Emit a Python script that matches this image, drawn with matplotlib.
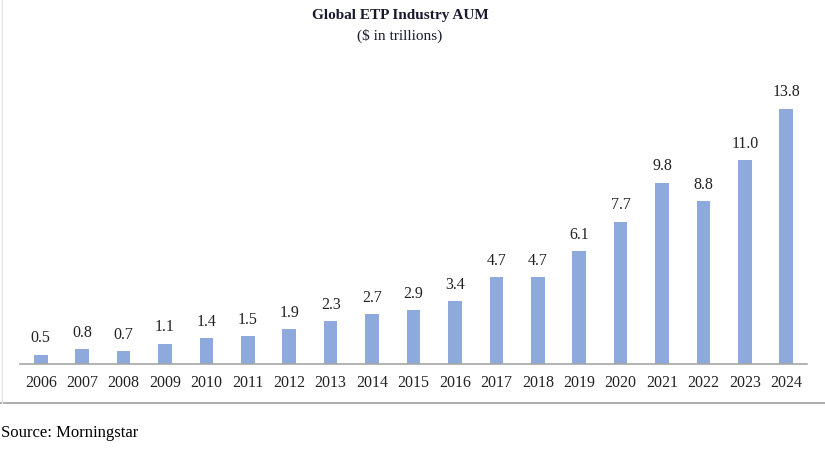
import matplotlib
matplotlib.use("Agg")
import matplotlib.pyplot as plt
from matplotlib.lines import Line2D

years = ["2006", "2007", "2008", "2009", "2010", "2011", "2012", "2013", "2014", "2015",
         "2016", "2017", "2018", "2019", "2020", "2021", "2022", "2023", "2024"]
aum = [0.5, 0.8, 0.7, 1.1, 1.4, 1.5, 1.9, 2.3, 2.7, 2.9, 3.4, 4.7, 4.7, 6.1, 7.7, 9.8, 8.8, 11.0, 13.8]
labels = ["0.5", "0.8", "0.7", "1.1", "1.4", "1.5", "1.9", "2.3", "2.7", "2.9", "3.4", "4.7", "4.7",
          "6.1", "7.7", "9.8", "8.8", "11.0", "13.8"]

plt.rcParams['font.family'] = ['Liberation Serif', 'DejaVu Serif']
W, H = 825, 451
fig = plt.figure(figsize=(W / 100, H / 100), dpi=100)
fig.patch.set_facecolor("white")

ax_left, ax_right, ax_bot, ax_top = 20, 807, 364, 90
ax = fig.add_axes([ax_left / W, (H - ax_bot) / H, (ax_right - ax_left) / W, (ax_bot - ax_top) / H])
x = list(range(len(years)))
ax.bar(x, aum, width=0.33, color="#8EA9DB", zorder=2)
ax.set_xlim(-0.5, len(years) - 0.5)
ax.set_ylim(0, 14.81)
for xi, v, lab in zip(x, aum, labels):
    ax.annotate(lab, (xi, v), xytext=(0, 6), textcoords="offset points",
                ha="center", va="bottom", fontsize=11.5, color="#222222")
ax.set_xticks(x)
ax.set_xticklabels(years, fontsize=11.5, color="#222222")
ax.tick_params(axis="x", length=0, pad=8)
ax.set_yticks([])
for s in ["top", "right", "left"]:
    ax.spines[s].set_visible(False)
ax.spines["bottom"].set_color("#A6A6A6")
ax.spines["bottom"].set_linewidth(1.2)

fig.text(400 / W, 1 - 15 / H, "Global ETP Industry AUM", ha="center", va="center",
         fontsize=11, fontweight="bold", color="#1a1a2e")
fig.text(400 / W, 1 - 36 / H, "($ in trillions)", ha="center", va="center",
         fontsize=11, color="#1a1a2e")
fig.text(1 / W, 1 - 433 / H, "Source: Morningstar", ha="left", va="center",
         fontsize=12, color="black")

fig.add_artist(Line2D([0, 1], [1 - 403 / H, 1 - 403 / H], transform=fig.transFigure,
                      color="#A0A0A0", linewidth=1.2))
fig.add_artist(Line2D([1.5 / W, 1.5 / W], [1 - 403 / H, 1], transform=fig.transFigure,
                      color="#E6E6E6", linewidth=1))

fig.savefig("out.png", dpi=100, facecolor="white")
